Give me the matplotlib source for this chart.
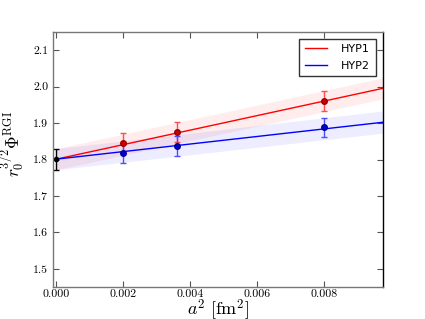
import numpy as np
import matplotlib
matplotlib.use('Agg')
import matplotlib.pyplot as plt

# lattice data (a^2 in fm^2)
a2 = [0.002, 0.0036, 0.008]
hyp1_val = [1.846, 1.875, 1.960]
hyp1_err = [0.028, 0.028, 0.027]
hyp2_val = [1.818, 1.837, 1.888]
hyp2_err = [0.027, 0.027, 0.027]

# continuum limit
cont_x = [0.0]
cont_val = [1.801]
cont_err = [0.029]

# fit lines and error bands (values at the two ends)
fit_x = [0.0, 0.00975]
hyp1_fit = [1.801, 1.995]
hyp1_lo = [1.772, 1.966]
hyp1_hi = [1.830, 2.024]
hyp2_fit = [1.801, 1.902]
hyp2_lo = [1.772, 1.872]
hyp2_hi = [1.830, 1.933]


def main():
    plt.rcParams['font.family'] = 'cmr10'
    plt.rcParams['mathtext.fontset'] = 'cm'
    plt.rcParams['axes.formatter.use_mathtext'] = True

    fig = plt.figure(figsize=(4.25, 3.19), dpi=100)
    ax = fig.add_axes([0.125, 0.1, 0.775, 0.8])

    ax.fill_between(fit_x, hyp1_lo, hyp1_hi, color='red', alpha=0.07, lw=0)
    ax.fill_between(fit_x, hyp2_lo, hyp2_hi, color='blue', alpha=0.07, lw=0)
    ax.plot(fit_x, hyp1_fit, color='red', lw=1, label='HYP1')
    ax.plot(fit_x, hyp2_fit, color='blue', lw=1, label='HYP2')

    ax.errorbar(a2, hyp1_val, yerr=hyp1_err, fmt='o', color='#cc0000', ms=4,
                ecolor=(1, 0.3, 0.3), elinewidth=1, capsize=2, mec='#990000')
    ax.errorbar(a2, hyp2_val, yerr=hyp2_err, fmt='o', color='#0000cc', ms=4,
                ecolor=(0.3, 0.3, 1), elinewidth=1, capsize=2, mec='#000099')
    ax.errorbar(cont_x, cont_val, yerr=cont_err, fmt='o', color='black', ms=3,
                elinewidth=1, capsize=2)

    ax.set_xlim(-0.0001, 0.00975)
    ax.set_ylim(1.45, 2.15)
    ax.set_xticks([0.000, 0.002, 0.004, 0.006, 0.008])
    ax.set_xticklabels(['0.000', '0.002', '0.004', '0.006', '0.008'])
    ax.set_yticks([1.5, 1.6, 1.7, 1.8, 1.9, 2.0, 2.1])
    ax.set_yticklabels(['1.5', '1.6', '1.7', '1.8', '1.9', '2.0', '2.1'])
    ax.tick_params(direction='in', top=True, right=True, labelsize=8.5,
                   length=4, color='#555555')
    ax.tick_params(axis='x', pad=2)
    for s in ax.spines.values():
        s.set_linewidth(1)
    for s in ['left', 'bottom', 'top']:
        ax.spines[s].set_color('#777777')

    ax.set_xlabel(r'$a^2\ [\mathrm{fm}^2]$', fontsize=13, labelpad=-1.5)
    ax.set_ylabel(r'$r_0^{3/2}\Phi^{\mathrm{RGI}}$', fontsize=12.5)
    ax.yaxis.set_label_coords(-0.08, 0.56)

    leg = ax.legend(loc='upper right', fancybox=False, edgecolor='black',
                    prop={'family': 'DejaVu Sans', 'size': 8},
                    handlelength=2.0, handletextpad=1.3, labelspacing=0.6,
                    borderpad=0.5, borderaxespad=0.6)
    leg.get_frame().set_linewidth(1)

    fig.savefig('out.png', dpi=100)


if __name__ == '__main__':
    main()
